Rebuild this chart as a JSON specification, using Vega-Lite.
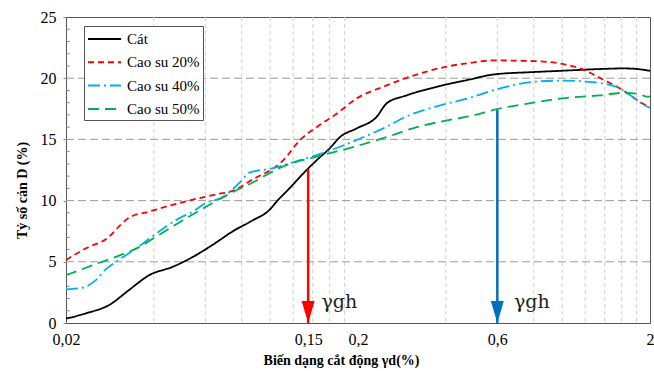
{
  "$schema": "https://vega.github.io/schema/vega-lite/v6.json",
  "width": 584,
  "height": 306,
  "autosize": {"type": "none"},
  "padding": {"left": 66, "top": 17, "right": 4, "bottom": 48},
  "config": {
    "font": "Liberation Serif",
    "view": {"stroke": "#555555", "strokeWidth": 1},
    "axis": {"labelFont": "Liberation Serif", "titleFont": "Liberation Serif", "labelColor": "#000000", "titleColor": "#000000"}
  },
  "layer": [
    {
      "data": {"values": [{"x": 0.04}, {"x": 0.06}, {"x": 0.08}, {"x": 0.1}, {"x": 0.12}, {"x": 0.14}, {"x": 0.16}, {"x": 0.18}, {"x": 0.4}, {"x": 0.6}, {"x": 0.8}, {"x": 1.0}, {"x": 1.2}, {"x": 1.4}, {"x": 1.6}, {"x": 1.8}]},
      "mark": {"type": "rule", "stroke": "#cfcfcf", "strokeWidth": 1, "strokeDash": [4, 3]},
      "encoding": {
        "x": {
          "field": "x", "type": "quantitative",
          "scale": {"type": "log", "domain": [0.02, 2], "nice": false},
          "axis": {
            "values": [0.02, 0.135, 0.2, 0.6, 2],
            "labelExpr": "datum.value < 0.03 ? '0,02' : datum.value < 0.17 ? '0,15' : datum.value < 0.3 ? '0,2' : datum.value < 1 ? '0,6' : '2'",
            "grid": false, "ticks": false, "domain": false,
            "labelFontSize": 16, "labelPadding": 8, "labelFlush": false, "labelOverlap": false,
            "title": "Biến dạng cắt động γd(%)", "titleFontSize": 14, "titleFontWeight": "bold",
            "titleX": 275, "titleY": 37, "titleBaseline": "middle"
          }
        }
      }
    },
    {
      "data": {"values": [{"y": 5}, {"y": 10}, {"y": 15}, {"y": 20}]},
      "mark": {"type": "rule", "stroke": "#9a9a9a", "strokeWidth": 1, "strokeDash": [8, 4]},
      "encoding": {
        "y": {"field": "y", "type": "quantitative", "scale": {"domain": [0, 25], "nice": false}}
      }
    },
    {
      "data": {"values": [{"y": 1}, {"y": 2}, {"y": 3}, {"y": 4}, {"y": 6}, {"y": 7}, {"y": 8}, {"y": 9}, {"y": 11}, {"y": 12}, {"y": 13}, {"y": 14}, {"y": 16}, {"y": 17}, {"y": 18}, {"y": 19}, {"y": 21}, {"y": 22}, {"y": 23}, {"y": 24}]},
      "mark": {"type": "rule", "stroke": "#888888", "strokeWidth": 1},
      "encoding": {
        "x": {"datum": 0.02, "type": "quantitative"},
        "x2": {"datum": 0.0206},
        "y": {"field": "y", "type": "quantitative"}
      }
    },
    {
      "mark": {"type": "rule", "stroke": "#000000", "strokeWidth": 1, "strokeDash": [6, 3]},
      "encoding": {"x": {"datum": 0.2, "type": "quantitative"}}
    },
    {
      "data": {"values": [
        {"s": "Cát", "x": 0.02, "y": 0.35},
        {"s": "Cát", "x": 0.0234, "y": 0.79},
        {"s": "Cát", "x": 0.0281, "y": 1.47},
        {"s": "Cát", "x": 0.0329, "y": 2.7},
        {"s": "Cát", "x": 0.0385, "y": 3.9},
        {"s": "Cát", "x": 0.0465, "y": 4.6},
        {"s": "Cát", "x": 0.0544, "y": 5.4},
        {"s": "Cát", "x": 0.0637, "y": 6.4},
        {"s": "Cát", "x": 0.0746, "y": 7.5},
        {"s": "Cát", "x": 0.0874, "y": 8.4},
        {"s": "Cát", "x": 0.0991, "y": 9.2},
        {"s": "Cát", "x": 0.106, "y": 10.0},
        {"s": "Cát", "x": 0.1154, "y": 10.9},
        {"s": "Cát", "x": 0.1334, "y": 12.5},
        {"s": "Cát", "x": 0.1444, "y": 13.3},
        {"s": "Cát", "x": 0.1604, "y": 14.3},
        {"s": "Cát", "x": 0.1737, "y": 15.2},
        {"s": "Cát", "x": 0.198, "y": 15.9},
        {"s": "Cát", "x": 0.2318, "y": 16.85},
        {"s": "Cát", "x": 0.2508, "y": 17.95},
        {"s": "Cát", "x": 0.2936, "y": 18.6},
        {"s": "Cát", "x": 0.372, "y": 19.3},
        {"s": "Cát", "x": 0.484, "y": 19.9},
        {"s": "Cát", "x": 0.58, "y": 20.3},
        {"s": "Cát", "x": 0.795, "y": 20.5},
        {"s": "Cát", "x": 0.984, "y": 20.6},
        {"s": "Cát", "x": 1.35, "y": 20.75},
        {"s": "Cát", "x": 1.62, "y": 20.8},
        {"s": "Cát", "x": 1.81, "y": 20.75},
        {"s": "Cát", "x": 2.0, "y": 20.6},
        {"s": "Cao su 20%", "x": 0.02, "y": 5.15},
        {"s": "Cao su 20%", "x": 0.0234, "y": 6.1},
        {"s": "Cao su 20%", "x": 0.0281, "y": 7.05},
        {"s": "Cao su 20%", "x": 0.0304, "y": 7.9},
        {"s": "Cao su 20%", "x": 0.0329, "y": 8.6},
        {"s": "Cao su 20%", "x": 0.0385, "y": 9.1},
        {"s": "Cao su 20%", "x": 0.044, "y": 9.5},
        {"s": "Cao su 20%", "x": 0.0527, "y": 10.0},
        {"s": "Cao su 20%", "x": 0.0652, "y": 10.5},
        {"s": "Cao su 20%", "x": 0.0764, "y": 10.9},
        {"s": "Cao su 20%", "x": 0.0853, "y": 11.6},
        {"s": "Cao su 20%", "x": 0.111, "y": 13.3},
        {"s": "Cao su 20%", "x": 0.1266, "y": 14.95},
        {"s": "Cao su 20%", "x": 0.1444, "y": 16.0},
        {"s": "Cao su 20%", "x": 0.169, "y": 17.1},
        {"s": "Cao su 20%", "x": 0.198, "y": 18.35},
        {"s": "Cao su 20%", "x": 0.244, "y": 19.3},
        {"s": "Cao su 20%", "x": 0.318, "y": 20.3},
        {"s": "Cao su 20%", "x": 0.413, "y": 21.0},
        {"s": "Cao su 20%", "x": 0.484, "y": 21.25},
        {"s": "Cao su 20%", "x": 0.58, "y": 21.45},
        {"s": "Cao su 20%", "x": 0.795, "y": 21.4},
        {"s": "Cao su 20%", "x": 0.984, "y": 21.2},
        {"s": "Cao su 20%", "x": 1.18, "y": 20.7},
        {"s": "Cao su 20%", "x": 1.38, "y": 19.9},
        {"s": "Cao su 20%", "x": 1.62, "y": 19.0},
        {"s": "Cao su 20%", "x": 1.81, "y": 18.2},
        {"s": "Cao su 20%", "x": 2.0, "y": 17.6},
        {"s": "Cao su 40%", "x": 0.02, "y": 2.75},
        {"s": "Cao su 40%", "x": 0.0229, "y": 2.9},
        {"s": "Cao su 40%", "x": 0.0253, "y": 3.5},
        {"s": "Cao su 40%", "x": 0.0274, "y": 4.4},
        {"s": "Cao su 40%", "x": 0.0297, "y": 5.0},
        {"s": "Cao su 40%", "x": 0.0367, "y": 6.5},
        {"s": "Cao su 40%", "x": 0.0407, "y": 7.3},
        {"s": "Cao su 40%", "x": 0.0488, "y": 8.55},
        {"s": "Cao su 40%", "x": 0.0544, "y": 9.1},
        {"s": "Cao su 40%", "x": 0.0603, "y": 9.8},
        {"s": "Cao su 40%", "x": 0.069, "y": 10.3},
        {"s": "Cao su 40%", "x": 0.0782, "y": 11.4},
        {"s": "Cao su 40%", "x": 0.0853, "y": 12.3},
        {"s": "Cao su 40%", "x": 0.0999, "y": 12.6},
        {"s": "Cao su 40%", "x": 0.1266, "y": 13.3},
        {"s": "Cao su 40%", "x": 0.152, "y": 13.9},
        {"s": "Cao su 40%", "x": 0.1737, "y": 14.4},
        {"s": "Cao su 40%", "x": 0.198, "y": 14.95},
        {"s": "Cao su 40%", "x": 0.244, "y": 15.9},
        {"s": "Cao su 40%", "x": 0.301, "y": 17.0},
        {"s": "Cao su 40%", "x": 0.372, "y": 17.7},
        {"s": "Cao su 40%", "x": 0.484, "y": 18.4},
        {"s": "Cao su 40%", "x": 0.58, "y": 19.0},
        {"s": "Cao su 40%", "x": 0.795, "y": 19.7},
        {"s": "Cao su 40%", "x": 0.984, "y": 19.8},
        {"s": "Cao su 40%", "x": 1.24, "y": 19.7},
        {"s": "Cao su 40%", "x": 1.53, "y": 19.3},
        {"s": "Cao su 40%", "x": 1.81, "y": 18.2},
        {"s": "Cao su 40%", "x": 1.91, "y": 17.8},
        {"s": "Cao su 40%", "x": 2.0, "y": 17.6},
        {"s": "Cao su 50%", "x": 0.02, "y": 3.9},
        {"s": "Cao su 50%", "x": 0.0259, "y": 4.9},
        {"s": "Cao su 50%", "x": 0.0304, "y": 5.5},
        {"s": "Cao su 50%", "x": 0.0356, "y": 6.2},
        {"s": "Cao su 50%", "x": 0.0416, "y": 7.2},
        {"s": "Cao su 50%", "x": 0.0503, "y": 8.4},
        {"s": "Cao su 50%", "x": 0.0603, "y": 9.5},
        {"s": "Cao su 50%", "x": 0.0746, "y": 10.7},
        {"s": "Cao su 50%", "x": 0.0874, "y": 11.5},
        {"s": "Cao su 50%", "x": 0.111, "y": 12.8},
        {"s": "Cao su 50%", "x": 0.1444, "y": 13.6},
        {"s": "Cao su 50%", "x": 0.1878, "y": 14.3},
        {"s": "Cao su 50%", "x": 0.244, "y": 15.1},
        {"s": "Cao su 50%", "x": 0.318, "y": 16.0},
        {"s": "Cao su 50%", "x": 0.413, "y": 16.6},
        {"s": "Cao su 50%", "x": 0.484, "y": 16.9},
        {"s": "Cao su 50%", "x": 0.594, "y": 17.45},
        {"s": "Cao su 50%", "x": 0.795, "y": 18.0},
        {"s": "Cao su 50%", "x": 1.04, "y": 18.4},
        {"s": "Cao su 50%", "x": 1.35, "y": 18.6},
        {"s": "Cao su 50%", "x": 1.62, "y": 18.8},
        {"s": "Cao su 50%", "x": 1.84, "y": 18.7},
        {"s": "Cao su 50%", "x": 1.94, "y": 18.5},
        {"s": "Cao su 50%", "x": 2.0, "y": 18.5}
      ]},
      "mark": {"type": "line", "strokeWidth": 1.8, "interpolate": "monotone"},
      "encoding": {
        "x": {"field": "x", "type": "quantitative"},
        "y": {
          "field": "y", "type": "quantitative",
          "axis": {
            "values": [0, 5, 10, 15, 20, 25],
            "grid": false, "domain": false,
            "tickSize": 3, "tickColor": "#888888",
            "labelFontSize": 16, "labelPadding": 7,
            "title": "Tỷ số cản D (%)", "titleFontSize": 14, "titleFontWeight": "bold",
            "titleAngle": -90, "titleX": -44, "titleY": 173, "titleAlign": "center", "titleBaseline": "middle"
          }
        },
        "color": {
          "field": "s", "type": "nominal",
          "scale": {"domain": ["Cát", "Cao su 20%", "Cao su 40%", "Cao su 50%"], "range": ["#000000", "#ff0000", "#00b0f0", "#00b050"]},
          "legend": {"title": null, "orient": "none", "legendX": 18, "legendY": 9, "direction": "vertical", "symbolType": "M-1,0L2.67,0", "symbolSize": 324, "symbolStrokeWidth": 2, "labelFontSize": 15, "labelFont": "Liberation Serif", "labelColor": "#000000", "labelOffset": 20, "rowPadding": 5.3, "padding": 3, "strokeColor": "#555555", "fillColor": "#ffffff", "labelLimit": 0}
        },
        "strokeDash": {
          "field": "s", "type": "nominal",
          "scale": {"domain": ["Cát", "Cao su 20%", "Cao su 40%", "Cao su 50%"], "range": [[1, 0], [6, 4], [12, 4, 2, 4], [11, 6]]},
          "legend": {"title": null, "orient": "none", "legendX": 18, "legendY": 9, "direction": "vertical", "symbolType": "M-1,0L2.67,0", "symbolSize": 324, "symbolStrokeWidth": 2, "labelFontSize": 15, "labelFont": "Liberation Serif", "labelColor": "#000000", "labelOffset": 20, "rowPadding": 5.3, "padding": 3, "strokeColor": "#555555", "fillColor": "#ffffff", "labelLimit": 0}
        }
      }
    },
    {
      "data": {"values": [{"x": 0.135, "y": 12.6}]},
      "mark": {"type": "rule", "stroke": "#ff0000", "strokeWidth": 2.5},
      "encoding": {"x": {"field": "x", "type": "quantitative"}, "y": {"field": "y", "type": "quantitative"}, "y2": {"datum": 0}}
    },
    {
      "data": {"values": [{"x": 0.135}]},
      "mark": {"type": "point", "shape": "M-1,-3.4L1,-3.4L0,0Z", "size": 169, "filled": true, "color": "#ff0000", "opacity": 1},
      "encoding": {"x": {"field": "x", "type": "quantitative"}, "y": {"datum": 0}}
    },
    {
      "data": {"values": [{"x": 0.6, "y": 17.4}]},
      "mark": {"type": "rule", "stroke": "#0070c0", "strokeWidth": 2.5},
      "encoding": {"x": {"field": "x", "type": "quantitative"}, "y": {"field": "y", "type": "quantitative"}, "y2": {"datum": 0}}
    },
    {
      "data": {"values": [{"x": 0.6}]},
      "mark": {"type": "point", "shape": "M-1,-3.4L1,-3.4L0,0Z", "size": 169, "filled": true, "color": "#0070c0", "opacity": 1},
      "encoding": {"x": {"field": "x", "type": "quantitative"}, "y": {"datum": 0}}
    },
    {
      "data": {"values": [{"x": 0.15, "y": 1.2, "t": "γgh"}, {"x": 0.684, "y": 1.2, "t": "γgh"}]},
      "mark": {"type": "text", "align": "left", "baseline": "alphabetic", "fontSize": 19, "font": "DejaVu Serif", "color": "#222222"},
      "encoding": {"x": {"field": "x", "type": "quantitative"}, "y": {"field": "y", "type": "quantitative"}, "text": {"field": "t"}}
    }
  ]
}
